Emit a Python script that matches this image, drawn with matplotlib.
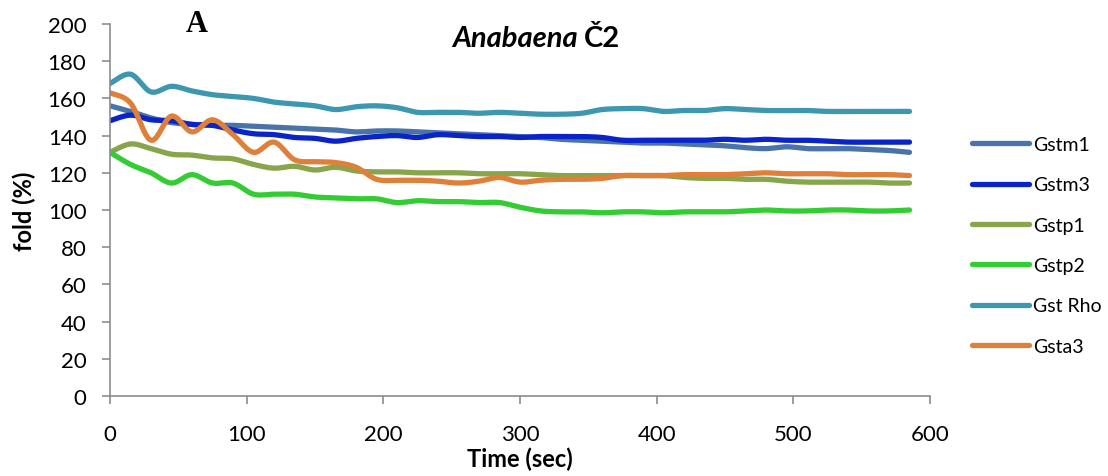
import numpy as np
import matplotlib
matplotlib.use("Agg")
import matplotlib.pyplot as plt

# Sampling times (s)
time_s = [0, 15, 30, 45, 60, 75, 90, 105, 120, 135, 150, 165, 180, 195, 210,
          225, 240, 255, 270, 285, 300, 315, 330, 345, 360, 375, 390, 405, 420,
          435, 450, 465, 480, 495, 510, 525, 540, 555, 570, 585]

gstm1 = [156, 153, 149.5, 147, 146, 145.5, 145.5, 145, 144.5, 144, 143.5, 143,
         142, 142.5, 142.5, 142, 141.5, 141, 140.5, 140, 139.5, 139, 138, 137.5,
         137, 136.5, 136, 136, 135.5, 135, 134.5, 133.5, 133, 134, 133, 133,
         133, 132.5, 132, 131]
gstm3 = [148, 151, 148.5, 148, 146, 145.5, 143, 141, 140.5, 139, 138.5, 137,
         138.5, 139.5, 140, 139, 140.5, 140, 139.5, 139.5, 139, 139.5, 139.5,
         139.5, 139, 137.5, 137.5, 137.5, 137.5, 137.5, 138, 137.5, 138, 137.5,
         137.5, 137, 136.5, 136.5, 136.5, 136.5]
gstp1 = [131, 135.5, 133, 130, 129.5, 128, 127.5, 124.5, 122.5, 123.5, 121.5,
         123, 121, 120.5, 120.5, 120, 120, 120, 119.5, 119.5, 119.5, 119, 118.5,
         118.5, 118.5, 118.5, 118.5, 118.5, 117.5, 117, 117, 116.5, 116.5, 115.5,
         115, 115, 115, 115, 114.5, 114.5]
gstp2 = [131, 124.5, 120, 114.5, 119, 114.5, 114.5, 108.5, 108.5, 108.5, 107,
         106.5, 106, 106, 104, 105, 104.5, 104.5, 104, 104, 101.5, 99.5, 99, 99,
         98.5, 99, 99, 98.5, 99, 99, 99, 99.5, 100, 99.5, 99.5, 100, 100, 99.5,
         99.5, 100]
gst_rho = [168, 173, 163.5, 166.5, 164, 162, 161, 160, 158, 157, 156, 154,
           155.5, 156, 155, 152.5, 152.5, 152.5, 152, 152.5, 152, 151.5, 151.5,
           152, 154, 154.5, 154.5, 153, 153.5, 153.5, 154.5, 154, 153.5, 153.5,
           153.5, 153, 153, 153, 153, 153]
gsta3 = [163, 157.5, 137.5, 150.5, 142, 148.5, 140.5, 131, 136.5, 127, 126,
         125.5, 123, 116.5, 116, 116, 115.5, 114.5, 115.5, 117.5, 115, 116,
         116.5, 116.5, 117, 118.5, 118.5, 118.5, 119, 119, 119, 119.5, 120,
         119.5, 119.5, 119.5, 119, 119, 119, 118.5]

series_names = ["Gstm1", "Gstm3", "Gstp1", "Gstp2", "Gst Rho", "Gsta3"]
series_values = [gstm1, gstm3, gstp1, gstp2, gst_rho, gsta3]
series_colors = ["#4a74a9", "#0a24c8", "#87a54b", "#33cd33", "#3e97b0", "#de803a"]

x_ticks = [0, 100, 200, 300, 400, 500, 600]
y_ticks = [0, 20, 40, 60, 80, 100, 120, 140, 160, 180, 200]


def smooth_curve(x, y, steps=16):
    """Smoothed line through the points (Catmull-Rom style Bezier segments)."""
    x = np.asarray(x, float)
    y = np.asarray(y, float)
    px = np.concatenate([[x[0]], x, [x[-1]]])
    py = np.concatenate([[y[0]], y, [y[-1]]])
    t = np.linspace(0, 1, steps, endpoint=False)
    xs, ys = [], []
    for i in range(1, len(px) - 2):
        p0x, p1x, p2x, p3x = px[i - 1], px[i], px[i + 1], px[i + 2]
        p0y, p1y, p2y, p3y = py[i - 1], py[i], py[i + 1], py[i + 2]
        c1x, c1y = p1x + (p2x - p0x) / 6, p1y + (p2y - p0y) / 6
        c2x, c2y = p2x - (p3x - p1x) / 6, p2y - (p3y - p1y) / 6
        b0 = (1 - t) ** 3
        b1 = 3 * (1 - t) ** 2 * t
        b2 = 3 * (1 - t) * t ** 2
        b3 = t ** 3
        xs.append(b0 * p1x + b1 * c1x + b2 * c2x + b3 * p2x)
        ys.append(b0 * p1y + b1 * c1y + b2 * c2y + b3 * p2y)
    xs.append([x[-1]])
    ys.append([y[-1]])
    return np.concatenate(xs), np.concatenate(ys)


plt.rcParams["font.family"] = ["Lato", "DejaVu Sans"]

fig = plt.figure(figsize=(11.08, 4.77), dpi=100)
ax = fig.add_axes([110 / 1108, 1 - 397 / 477, 820 / 1108, 372 / 477])

handles = []
for name, vals, col in zip(series_names, series_values, series_colors):
    sx, sy = smooth_curve(time_s, vals)
    h, = ax.plot(sx, sy, color=col, lw=3.8, solid_capstyle="round",
                 solid_joinstyle="round", label=name)
    handles.append(h)

ax.set_xlim(0, 600)
ax.set_ylim(0, 200)
ax.set_xticks(x_ticks)
ax.set_yticks(y_ticks)

for side in ("top", "right"):
    ax.spines[side].set_visible(False)
for side in ("left", "bottom"):
    ax.spines[side].set_color("#8c8c8c")
    ax.spines[side].set_linewidth(1.2)

ax.tick_params(axis="both", direction="out", length=6, width=1.2,
               color="#8c8c8c", labelsize=16, labelcolor="black")
ax.tick_params(axis="y", pad=11)
ax.tick_params(axis="x", pad=14)

ax.set_xlabel("Time (sec)", fontsize=17, fontweight="bold", labelpad=2)
ax.set_ylabel("fold (%)", fontsize=17, fontweight="bold", labelpad=8)

# Panel letter and title
fig.text(186 / 1108, 1 - 32 / 477, "A", fontsize=22, fontweight="bold",
         family="Liberation Serif", ha="left", va="baseline")
title_left = fig.text(452 / 1108, 1 - 47 / 477, "Anabaena", fontsize=21,
                      fontweight="bold", style="italic", ha="left",
                      va="baseline")
fig.canvas.draw()
bb = title_left.get_window_extent()
fig.text((bb.x1 + 6) / 1108, 1 - 47 / 477, "Č2", fontsize=21,
         fontweight="bold", ha="left", va="baseline")

leg = ax.legend(handles=handles, loc="upper left",
                bbox_to_anchor=(972 / 1108, 1 - 137 / 477),
                bbox_transform=fig.transFigure, frameon=False, fontsize=14,
                handlelength=2.95, handletextpad=0.2, labelspacing=1.2,
                borderpad=0, borderaxespad=0)

fig.savefig("out.png", dpi=100)
